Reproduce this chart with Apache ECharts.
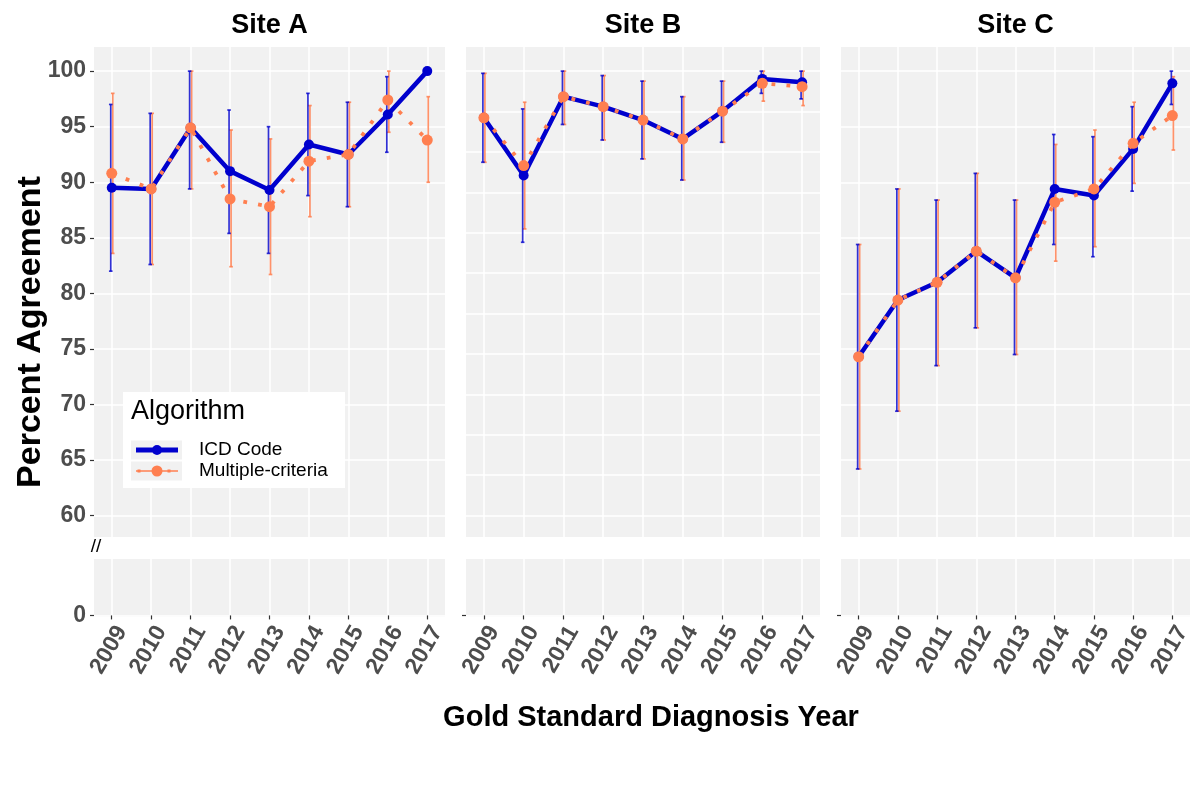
<!DOCTYPE html>
<html>
<head>
<meta charset="utf-8">
<script src="https://cdn.jsdelivr.net/npm/echarts@6/dist/echarts.min.js"></script>
<style>html,body{margin:0;padding:0;background:#fff;}#c{width:1200px;height:793px;}</style>
</head>
<body>
<div id="c"></div>
<script>
const years = [2009, 2010, 2011, 2012, 2013, 2014, 2015, 2016, 2017];
const siteNames = ['Site A', 'Site B', 'Site C'];
const seriesNames = ['ICD Code', 'Multiple-criteria'];

const siteA_icd    = [89.5, 89.4, 94.9, 91.0, 89.3, 93.4, 92.5, 96.1, 100.0];
const siteA_icd_lo = [82.0, 82.6, 89.4, 85.4, 83.6, 88.8, 87.8, 92.7, 100.0];
const siteA_icd_hi = [97.0, 96.2, 100.0, 96.5, 95.0, 98.0, 97.2, 99.5, 100.0];
const siteA_mc     = [90.8, 89.4, 94.9, 88.5, 87.8, 91.9, 92.5, 97.4, 93.8];
const siteA_mc_lo  = [83.6, 82.6, 89.4, 82.4, 81.7, 86.9, 87.8, 94.5, 90.0];
const siteA_mc_hi  = [98.0, 96.2, 100.0, 94.7, 93.9, 96.9, 97.2, 100.0, 97.7];

const siteB_icd    = [95.8, 90.6, 97.7, 96.8, 95.6, 93.9, 96.4, 99.3, 99.0];
const siteB_icd_lo = [91.8, 84.6, 95.2, 93.8, 92.1, 90.2, 93.6, 98.0, 97.5];
const siteB_icd_hi = [99.8, 96.6, 100.0, 99.6, 99.1, 97.7, 99.1, 100.0, 100.0];
const siteB_mc     = [95.8, 91.5, 97.7, 96.8, 95.6, 93.9, 96.4, 98.9, 98.6];
const siteB_mc_lo  = [91.8, 85.8, 95.2, 93.8, 92.1, 90.2, 93.6, 97.3, 96.9];
const siteB_mc_hi  = [99.8, 97.2, 100.0, 99.6, 99.1, 97.7, 99.1, 100.0, 100.0];

const siteC_icd    = [74.3, 79.4, 81.0, 83.8, 81.4, 89.4, 88.8, 93.0, 98.9];
const siteC_icd_lo = [64.2, 69.4, 73.5, 76.9, 74.5, 84.4, 83.3, 89.2, 97.0];
const siteC_icd_hi = [84.4, 89.4, 88.4, 90.8, 88.4, 94.3, 94.1, 96.8, 100.0];
const siteC_mc     = [74.3, 79.4, 81.0, 83.8, 81.4, 88.2, 89.4, 93.5, 96.0];
const siteC_mc_lo  = [64.2, 69.4, 73.5, 76.9, 74.5, 82.9, 84.2, 89.9, 92.9];
const siteC_mc_hi  = [84.4, 89.4, 88.4, 90.8, 88.4, 93.4, 94.7, 97.2, 99.5];

const yTicksAC = [60, 65, 70, 75, 80, 85, 90, 95, 100];
const yTicksB  = [60, 63.64, 67.27, 70.91, 74.55, 78.18, 81.82, 85.45, 89.09, 92.73, 96.36, 100];
const yTicksLow = [0];

const sites = [
  {icd: siteA_icd, icdLo: siteA_icd_lo, icdHi: siteA_icd_hi, mc: siteA_mc, mcLo: siteA_mc_lo, mcHi: siteA_mc_hi, grid: yTicksAC},
  {icd: siteB_icd, icdLo: siteB_icd_lo, icdHi: siteB_icd_hi, mc: siteB_mc, mcLo: siteB_mc_lo, mcHi: siteB_mc_hi, grid: yTicksB},
  {icd: siteC_icd, icdLo: siteC_icd_lo, icdHi: siteC_icd_hi, mc: siteC_mc, mcLo: siteC_mc_lo, mcHi: siteC_mc_hi, grid: yTicksAC}
];

const FONT = 'Liberation Sans, Arial, sans-serif';
const BLUE = '#0000CD';
const ORANGE = '#FF7F50';
const PANEL_BG = '#F1F1F1';
const panelLeft = [94, 466, 841];
const panelWidth = [351, 354, 349];
const upperTop = 47, upperH = 490;
const lowerTop = 559, lowerH = 58;

function errRender(color, offset, opacity) {
  return function (params, api) {
    const x = api.value(0), lo = api.value(1), hi = api.value(2);
    const p1 = api.coord([x, hi]);
    const p2 = api.coord([x, lo]);
    const cx = p1[0] + offset;
    const st = {stroke: color, lineWidth: 1.7, opacity: opacity};
    return {
      type: 'group',
      children: [
        {type: 'line', shape: {x1: cx, y1: p1[1], x2: cx, y2: p2[1]}, style: st},
        {type: 'line', shape: {x1: cx - 1.8, y1: p1[1], x2: cx + 1.8, y2: p1[1]}, style: st},
        {type: 'line', shape: {x1: cx - 1.8, y1: p2[1], x2: cx + 1.8, y2: p2[1]}, style: st}
      ]
    };
  };
}

const grids = [], xAxes = [], yAxes = [], series = [];
sites.forEach((s, i) => {
  grids.push({left: panelLeft[i], top: upperTop, width: panelWidth[i], height: upperH, show: true, backgroundColor: PANEL_BG, borderWidth: 0});
  grids.push({left: panelLeft[i], top: lowerTop, width: panelWidth[i], height: lowerH, show: true, backgroundColor: PANEL_BG, borderWidth: 0});
  const white = {show: true, lineStyle: {color: '#FFFFFF', width: 1.6}};
  xAxes.push({type: 'value', gridIndex: 2 * i, min: 2008.55, max: 2017.45,
    axisLine: {show: false}, axisTick: {show: false, customValues: years},
    axisLabel: {show: false, customValues: years}, splitLine: white});
  xAxes.push({type: 'value', gridIndex: 2 * i + 1, min: 2008.55, max: 2017.45,
    axisLine: {show: false},
    axisTick: {show: true, customValues: years, length: 4, lineStyle: {color: '#333333', width: 1.2}},
    axisLabel: {show: true, customValues: years, rotate: 60, fontSize: 23, fontWeight: 'bold', color: '#4D4D4D', fontFamily: FONT, margin: 5, verticalAlign: 'top', formatter: v => String(v)},
    splitLine: white});
  yAxes.push({type: 'value', gridIndex: 2 * i, min: 58.08, max: 102.17,
    axisLine: {show: false},
    axisTick: {show: i === 0, customValues: s.grid, length: 4, lineStyle: {color: '#333333', width: 1.2}},
    axisLabel: {show: i === 0, customValues: s.grid, fontSize: 23, fontWeight: 'bold', color: '#4D4D4D', fontFamily: FONT, margin: 8, formatter: v => String(v)},
    splitLine: white});
  yAxes.push({type: 'value', gridIndex: 2 * i + 1, min: -0.14, max: 5,
    axisLine: {show: false},
    axisTick: {show: true, customValues: yTicksLow, length: 4, lineStyle: {color: '#333333', width: 1.2}},
    axisLabel: {show: i === 0, customValues: yTicksLow, fontSize: 23, fontWeight: 'bold', color: '#4D4D4D', fontFamily: FONT, margin: 8, formatter: v => String(v)},
    splitLine: white});

  const ax = 2 * i;
  series.push({type: 'custom', name: seriesNames[1], xAxisIndex: ax, yAxisIndex: ax, z: 2,
    renderItem: errRender(ORANGE, 1, 0.85), data: years.map((y, k) => [y, s.mcLo[k], s.mcHi[k]])});
  series.push({type: 'custom', name: seriesNames[0], xAxisIndex: ax, yAxisIndex: ax, z: 3,
    renderItem: errRender(BLUE, -1, 0.8), data: years.map((y, k) => [y, s.icdLo[k], s.icdHi[k]])});
  series.push({type: 'line', name: seriesNames[0], xAxisIndex: ax, yAxisIndex: ax, z: 4,
    data: years.map((y, k) => [y, s.icd[k]]), symbol: 'circle', symbolSize: 10, clip: false,
    lineStyle: {color: BLUE, width: 4.5}, itemStyle: {color: BLUE}, emphasis: {disabled: true}, animation: false});
  series.push({type: 'line', name: seriesNames[1], xAxisIndex: ax, yAxisIndex: ax, z: 5,
    data: years.map((y, k) => [y, s.mc[k]]), symbol: 'circle', symbolSize: 11, clip: false,
    lineStyle: {color: ORANGE, width: 3.8, type: [3.8, 11.2], cap: 'butt'}, itemStyle: {color: ORANGE}, emphasis: {disabled: true}, animation: false});
});

const graphics = [];
siteNames.forEach((n, i) => {
  graphics.push({type: 'text', x: panelLeft[i] + panelWidth[i] / 2, y: 26,
    style: {text: n, fontSize: 27, fontWeight: 'bold', fill: '#000', fontFamily: FONT, textAlign: 'center', textVerticalAlign: 'middle'}});
});
graphics.push({type: 'text', x: 31, y: 332, rotation: Math.PI / 2,
  style: {text: 'Percent Agreement', fontSize: 34, fontWeight: 'bold', fill: '#000', fontFamily: FONT, textAlign: 'center', textVerticalAlign: 'middle'}});
graphics.push({type: 'text', x: 651, y: 718,
  style: {text: 'Gold Standard Diagnosis Year', fontSize: 29, fontWeight: 'bold', fill: '#000', fontFamily: FONT, textAlign: 'center', textVerticalAlign: 'middle'}});
graphics.push({type: 'text', x: 96, y: 547,
  style: {text: '//', fontSize: 19, fill: '#000', fontFamily: FONT, textAlign: 'center', textVerticalAlign: 'middle'}});
// legend
graphics.push({type: 'rect', shape: {x: 123, y: 392, width: 222, height: 96}, style: {fill: '#FFFFFF'}, z: 10});
graphics.push({type: 'text', x: 131, y: 412, z: 11,
  style: {text: 'Algorithm', fontSize: 27, fill: '#000', fontFamily: FONT, textAlign: 'left', textVerticalAlign: 'middle'}});
graphics.push({type: 'rect', shape: {x: 131, y: 440.5, width: 51, height: 19}, style: {fill: PANEL_BG}, z: 11});
graphics.push({type: 'rect', shape: {x: 131, y: 461.5, width: 51, height: 19}, style: {fill: PANEL_BG}, z: 11});
graphics.push({type: 'line', shape: {x1: 136, y1: 450, x2: 178, y2: 450}, style: {stroke: BLUE, lineWidth: 5}, z: 12});
graphics.push({type: 'circle', shape: {cx: 157, cy: 450, r: 5}, style: {fill: BLUE}, z: 12});
graphics.push({type: 'line', shape: {x1: 136, y1: 471, x2: 178, y2: 471}, style: {stroke: ORANGE, lineWidth: 1.6}, z: 12});
graphics.push({type: 'rect', shape: {x: 137.5, y: 469.5, width: 3, height: 3}, style: {fill: ORANGE}, z: 12});
graphics.push({type: 'rect', shape: {x: 167.5, y: 469.5, width: 3, height: 3}, style: {fill: ORANGE}, z: 12});
graphics.push({type: 'circle', shape: {cx: 157, cy: 471, r: 5.5}, style: {fill: ORANGE}, z: 12});
graphics.push({type: 'text', x: 199, y: 450, z: 12,
  style: {text: seriesNames[0], fontSize: 19, fill: '#000', fontFamily: FONT, textAlign: 'left', textVerticalAlign: 'middle'}});
graphics.push({type: 'text', x: 199, y: 471, z: 12,
  style: {text: seriesNames[1], fontSize: 19, fill: '#000', fontFamily: FONT, textAlign: 'left', textVerticalAlign: 'middle'}});

const chart = echarts.init(document.getElementById('c'), null, {renderer: 'canvas'});
chart.setOption({
  animation: false,
  backgroundColor: '#FFFFFF',
  grid: grids,
  xAxis: xAxes,
  yAxis: yAxes,
  series: series,
  graphic: graphics
});
</script>
</body>
</html>
